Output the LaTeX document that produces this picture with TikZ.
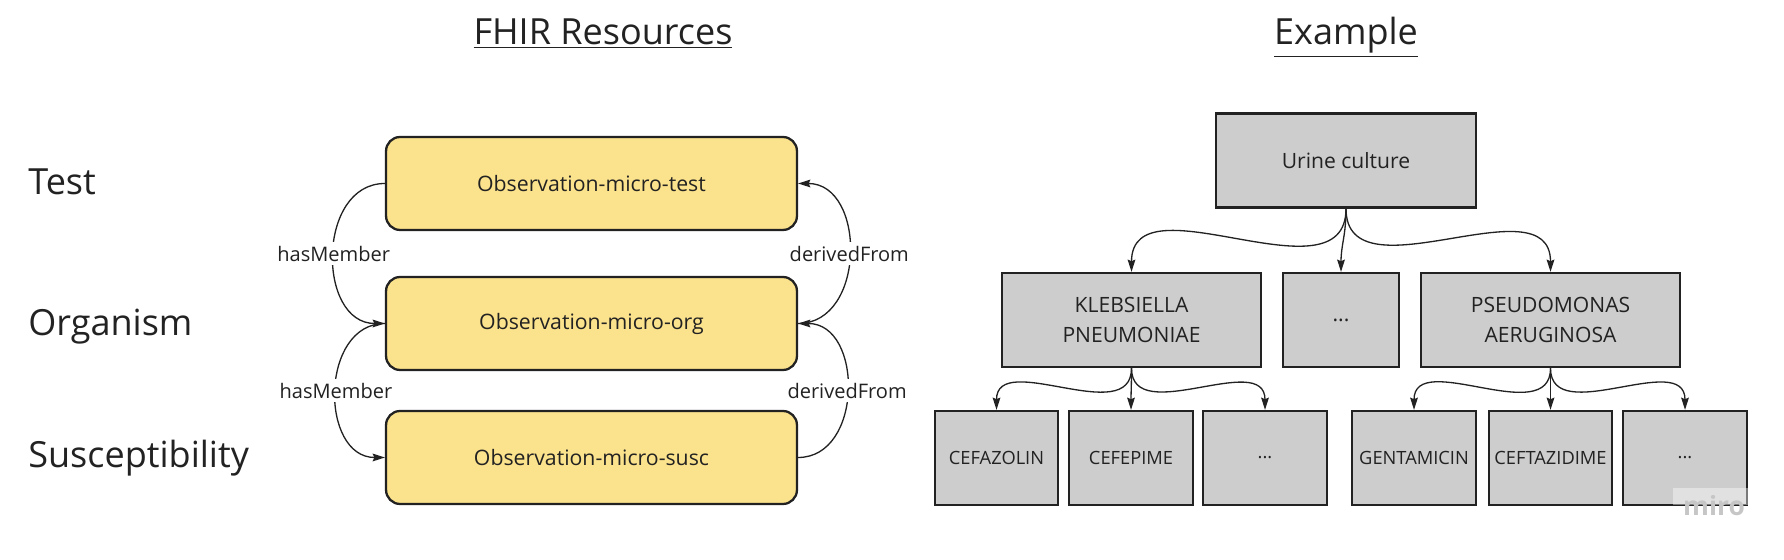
\documentclass[tikz,border=0pt]{standalone}
\usepackage{fontspec}
\setmainfont{Open Sans}
\usepackage[]{tikz}
\usetikzlibrary{positioning,arrows.meta}
\definecolor{fhiryellow}{HTML}{FBE28C}
\definecolor{boxgray}{HTML}{CDCDCD}
\definecolor{inkgray}{HTML}{222222}
\tikzset{fhirbox/.style={draw=inkgray,line width=1.3pt,fill=fhiryellow,rounded corners=8pt,minimum width=8.22cm,minimum height=1.86cm,text=inkgray,font=\fontsize{12.1}{15}\selectfont}}
\tikzset{treebox/.style={draw=inkgray,line width=1.3pt,fill=boxgray,minimum height=1.88cm,align=center,text=inkgray,font=\fontsize{12}{17}\selectfont}}
\tikzset{leafbox/.style={treebox,minimum width=2.47cm,inner sep=1pt,font=\fontsize{10.4}{13}\selectfont}}
\tikzset{link/.style={draw=inkgray,line width=0.75pt,-{Stealth[length=7pt,width=4.4pt,inset=1pt]}}}
\tikzset{rel/.style={fill=white,inner sep=2pt,text=inkgray,font=\fontsize{11.4}{14}\selectfont}}
\tikzset{heading/.style={anchor=base,inner sep=0pt,text=inkgray,font=\fontsize{20.5}{25}\selectfont}}

\begin{document}
\begin{tikzpicture}[x=0.02cm,y=0.02cm] % 1 单位 = 1 像素
            \useasboundingbox (0,0) rectangle (1784,560);
            % 标题
            \node[heading] (fhirtitle) at (603,515) {\underline{FHIR Resources}};
            \node[heading] (extitle) at (1346,515) {\underline{Example}};
            % 左边: 层次名称
            \node[heading,anchor=base west] (lbltest) at (28,365) {Test};
            \node[heading,anchor=base west] (lblorg) at (28,224) {Organism};
            \node[heading,anchor=base west] (lblsusc) at (28,92) {Susceptibility};
            % FHIR 资源
            \node[fhirbox] (test) at (591.5,376.5) {Observation-micro-test};
            \node[fhirbox] (org) at (591.5,236.5) {Observation-micro-org};
            \node[fhirbox] (susc) at (591.5,102.5) {Observation-micro-susc};
            \draw[link] (test.west) to[out=180,in=180,looseness=1.25] node[rel]{hasMember} (org.west);
            \draw[link] (org.west) to[out=180,in=180,looseness=1.25] node[rel]{hasMember} (susc.west);
            \draw[link] (org.east) to[out=0,in=0,looseness=1.25] node[rel]{derivedFrom} (test.east);
            \draw[link] (susc.east) to[out=0,in=0,looseness=1.25] node[rel]{derivedFrom} (org.east);
            % 右边: 例子
            \node[treebox,minimum width=5.2cm] (urine) at (1346,399.5) {Urine culture};
            \node[treebox,minimum width=5.18cm] (kleb) at (1131.5,240) {KLEBSIELLA\\PNEUMONIAE};
            \node[treebox,minimum width=2.32cm] (orgdots) at (1341,240) {...};
            \node[treebox,minimum width=5.18cm] (pseu) at (1550.5,240) {PSEUDOMONAS\\AERUGINOSA};
            \node[leafbox] (cefaz) at (996.5,102) {CEFAZOLIN};
            \node[leafbox] (cefep) at (1131,102) {CEFEPIME};
            \node[leafbox] (klebdots) at (1265,102) {...};
            \node[leafbox] (gent) at (1414,102) {GENTAMICIN};
            \node[leafbox] (ceftaz) at (1550.5,102) {CEFTAZIDIME};
            \node[leafbox] (pseudots) at (1685,102) {...};
            \foreach \child in {kleb,orgdots,pseu}
                \draw[link] (urine.south) to[out=-90,in=90,looseness=1.1] (\child.north);
            \foreach \child in {cefaz,cefep,klebdots}
                \draw[link] (kleb.south) to[out=-90,in=90,looseness=1.1] (\child.north);
            \foreach \child in {gent,ceftaz,pseudots}
                \draw[link] (pseu.south) to[out=-90,in=90,looseness=1.1] (\child.north);
            % 水印
            \fill[white,opacity=0.4] (1673,55) rectangle (1748,72);
            \node[text=gray!45,font=\fontsize{15}{18}\selectfont\bfseries] (miro) at (1714,54) {miro};
        \end{tikzpicture}
\end{document}
